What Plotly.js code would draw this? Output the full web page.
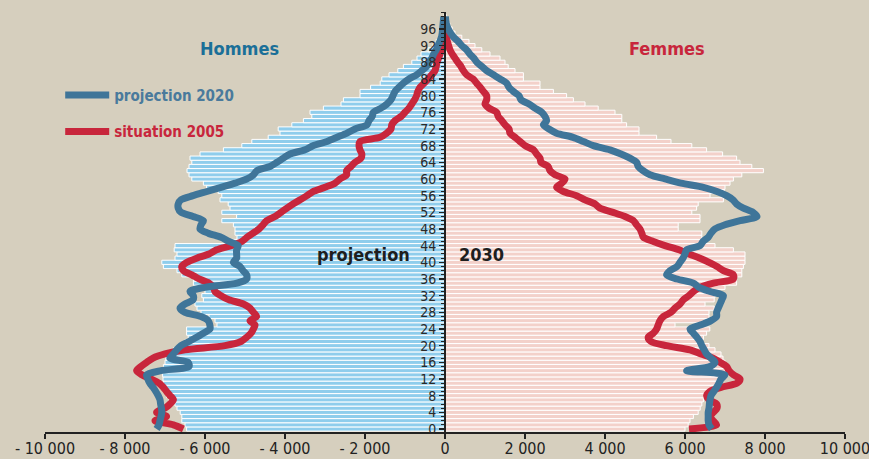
<!DOCTYPE html>
<html><head><meta charset="utf-8">
<script src="https://cdn.plot.ly/plotly-3.0.1.min.js"></script>
<style>html,body{margin:0;padding:0;background:#d6cfbe;}#chart{width:869px;height:459px;}</style>
</head><body><div id="chart"></div>
<script>
// Ages 0..99
const ages = [0,1,2,3,4,5,6,7,8,9,10,11,12,13,14,15,16,17,18,19,20,21,22,23,24,25,26,27,28,29,
30,31,32,33,34,35,36,37,38,39,40,41,42,43,44,45,46,47,48,49,50,51,52,53,54,55,56,57,58,59,
60,61,62,63,64,65,66,67,68,69,70,71,72,73,74,75,76,77,78,79,80,81,82,83,84,85,86,87,88,89,
90,91,92,93,94,95,96,97,98,99];

// Projection 2030 (bars)
const men2030 = [6460,6500,6580,6580,6620,6700,6750,6900,6960,7000,7020,7040,7050,7060,7050,7040,7000,6980,6960,6790,
6625,6500,6420,6460,6460,5700,5750,5900,6100,6200,6250,6040,6080,6000,6000,6290,6290,6580,6700,7040,
7080,6750,6700,6770,6750,5375,5200,5250,5250,5290,5580,5210,5580,5375,5420,5625,5580,5670,5960,6040,
6330,6400,6450,6400,6330,6375,6125,5540,5080,4830,4420,4125,4170,3830,3540,3330,3375,3040,2600,2540,
2125,2125,1860,1620,1580,1400,1180,1040,830,700,600,420,300,220,150,110,80,60,40,25];
const women2030 = [6000,6080,6125,6210,6330,6380,6420,6460,6500,6550,6700,6800,6900,6950,7000,7000,7000,6950,6900,6750,
6600,6420,6460,6540,6620,5750,6500,6600,6600,6730,6500,6730,6750,6800,7000,7290,7290,7420,7420,7460,
7500,7500,7500,7210,6750,6500,6420,6420,5830,5830,6375,6375,6170,6290,6330,6960,6625,6980,7000,7125,
7210,7420,7960,7670,7375,7290,6940,6540,6170,5650,5290,4850,4850,4540,4420,4420,4250,3830,3500,3210,
3040,2710,2375,2375,1960,1960,1750,1580,1500,1375,1125,920,750,600,420,250,180,120,60,30];

// Projection 2020 (lines)
const men2020 = [7210,7150,7125,7100,7080,7090,7110,7125,7170,7230,7300,7380,7430,7460,7100,6400,6420,6875,6790,6710,
6600,6400,6210,6040,5875,5880,5920,6100,6500,6625,6500,6300,6290,6375,6000,5200,4960,4960,5050,5125,
5290,5210,5210,5210,5170,5400,5600,5920,6125,6100,6040,6300,6600,6670,6670,6600,6300,5950,5600,5250,
4950,4790,4700,4375,4200,4040,3875,3500,3300,2950,2700,2450,2250,1950,1900,1820,1790,1600,1450,1350,
1300,1250,1150,1040,900,710,580,460,400,330,280,220,175,130,90,70,60,50,40,30];
const women2020 = [6670,6600,6580,6580,6580,6600,6610,6625,6650,6720,6790,6850,6900,7000,6040,6625,6750,6650,6540,6480,
6420,6375,6300,6210,6125,6400,6650,6790,6790,6830,6875,6920,6960,6625,6350,6210,5800,5540,5625,5800,
5875,5950,6000,6040,6375,6450,6580,6650,6750,7000,7375,7800,7700,7460,7290,7200,7040,6800,6460,5900,
5500,5125,4950,4830,4790,4625,4400,4125,3710,3460,3200,2790,2600,2460,2540,2500,2420,2250,2100,1900,
1850,1710,1600,1540,1380,1210,1040,920,800,720,620,540,420,330,220,140,80,40,20,10];

// Situation 2005 (lines)
const men2005 = [6540,6790,7250,6960,7210,7000,6875,6790,6875,6960,7040,7150,7350,7580,7710,7600,7460,7300,7000,6500,
5500,5100,4960,4850,4790,4750,4875,4710,4790,4875,5040,5400,5600,5750,5790,5900,6150,6330,6540,6580,
6450,6210,5900,5710,5350,5080,4950,4800,4650,4550,4460,4250,4100,3950,3800,3620,3450,3290,3000,2750,
2625,2460,2460,2350,2250,2100,2080,2125,2150,2125,1625,1460,1350,1330,1250,1100,1000,900,830,760,
710,680,625,520,420,330,250,220,200,160,125,100,80,60,40];
const women2005 = [6100,6790,6700,6625,6710,6800,6790,6600,6540,6620,6900,7300,7375,7210,7100,7040,6875,6700,6400,6125,
5540,5150,5080,5210,5290,5330,5375,5460,5650,5750,5875,5960,6100,6210,6375,6710,7210,7210,6960,6800,
6600,6375,6100,5850,5500,5210,4960,4920,4875,4790,4710,4500,4200,3875,3750,3500,3290,2960,2790,2920,
3000,2750,2625,2580,2400,2375,2290,2210,2000,1875,1750,1625,1600,1500,1420,1330,1290,1100,1000,1040,
1040,960,880,790,700,540,460,400,320,250,180,125,90,60,40,30,20];

const xTickVals = [-10000,-8000,-6000,-4000,-2000,0,2000,4000,6000,8000,10000];
const xTickText = ['- 10 000','- 8 000','- 6 000','- 4 000','- 2 000','0','2 000','4 000','6 000','8 000','10 000'];
const yTickVals = [0,4,8,12,16,20,24,28,32,36,40,44,48,52,56,60,64,68,72,76,80,84,88,92,96];

const FONT = '"Liberation Sans Narrow","DejaVu Sans Condensed","Roboto Condensed",Arial,sans-serif';
const BLUE = '#3f7599', RED = '#c8263c';
const neg = a => a.map(v => -v);

const traces = [
  {type:'bar', orientation:'h', y:ages, x:neg(men2030), marker:{color:'#8fcdec', line:{color:'#ffffff', width:1}}, showlegend:false, hoverinfo:'skip'},
  {type:'bar', orientation:'h', y:ages, x:women2030, marker:{color:'#f3d1ca', line:{color:'#ffffff', width:1}}, showlegend:false, hoverinfo:'skip'},
  {type:'scatter', mode:'lines', y:ages.slice(0, men2005.length), x:neg(men2005), line:{color:RED, width:7, shape:'spline', smoothing:0.8},
   name:'<span style="color:'+RED+'">situation 2005</span>', legendgroup:'b', legendrank:2, showlegend:true},
  {type:'scatter', mode:'lines', y:ages.slice(0, women2005.length), x:women2005, line:{color:RED, width:7, shape:'spline', smoothing:0.8},
   legendgroup:'b', showlegend:false},
  {type:'scatter', mode:'lines', y:ages, x:neg(men2020), line:{color:BLUE, width:7, shape:'spline', smoothing:0.8},
   name:'<span style="color:#4a7a9c">projection 2020</span>', legendgroup:'a', legendrank:1, showlegend:true},
  {type:'scatter', mode:'lines', y:ages, x:women2020, line:{color:BLUE, width:7, shape:'spline', smoothing:0.8},
   legendgroup:'a', showlegend:false}
];

const layout = {
  width:869, height:459,
  margin:{l:45, r:24, t:12, b:27},
  paper_bgcolor:'#d6cfbe', plot_bgcolor:'#d6cfbe',
  barmode:'overlay', bargap:0,
  font:{family:FONT, color:'#222'},
  xaxis:{range:[-10000,10000], tickvals:xTickVals, ticktext:xTickText, showline:true, linecolor:'#222', linewidth:1.5,
    ticks:'outside', ticklen:5, tickwidth:1.5, tickcolor:'#222', showgrid:false, zeroline:false,
    tickfont:{family:FONT, size:16, color:'#222'}, ticklabelstandoff:-4, ticklabeloverflow:'allow', fixedrange:true},
  yaxis:{range:[-0.72,100.07], anchor:'free', position:0.5, side:'left', showline:true, linecolor:'#222', linewidth:2,
    tickvals:yTickVals, ticks:'outside', ticklen:5, tickwidth:1.5, tickcolor:'#222',
    minor:{tickmode:'linear', tick0:0, dtick:1, ticks:'outside', ticklen:3, tickwidth:1, tickcolor:'#222'},
    showgrid:false, zeroline:false, tickfont:{family:FONT, size:14, color:'#2a2a2a'}, fixedrange:true},
  showlegend:true,
  legend:{x:0.019, xanchor:'left', y:0.841, yanchor:'top', bgcolor:'rgba(0,0,0,0)', borderwidth:0,
    font:{family:FONT, size:15, weight:'bold'}, tracegroupgap:14, itemwidth:44, traceorder:'grouped'},
  annotations:[
    {xref:'paper', yref:'paper', x:(239-45)/800, y:(432-48)/420, xanchor:'center', yanchor:'middle', text:'<b>Hommes</b>', showarrow:false,
     font:{family:FONT, size:18, color:'#1b6f98'}},
    {xref:'paper', yref:'paper', x:(667-45)/800, y:(432-48)/420, xanchor:'center', yanchor:'middle', text:'<b>Femmes</b>', showarrow:false,
     font:{family:FONT, size:18, color:RED}},
    {xref:'paper', yref:'paper', x:(363-45)/800, y:(432-255)/420, xanchor:'center', yanchor:'middle', text:'<b>projection</b>', showarrow:false,
     font:{family:FONT, size:18, color:'#1e1e1e'}},
    {xref:'paper', yref:'paper', x:(481-45)/800, y:(432-255)/420, xanchor:'center', yanchor:'middle', text:'<b>2030</b>', showarrow:false,
     font:{family:FONT, size:18, color:'#1e1e1e'}}
  ]
};

Plotly.newPlot('chart', traces, layout, {displayModeBar:false, staticPlot:true});
</script></body></html>
